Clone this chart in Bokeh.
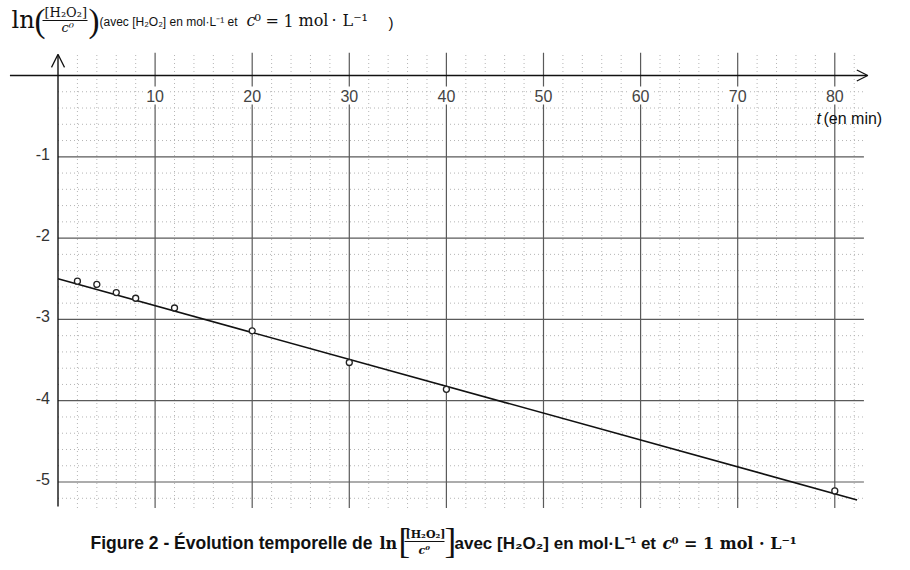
#Numbers and Bokeh
import numpy as np

from bokeh.core.properties import value
from bokeh.embed import file_html
from bokeh.models import Arrow, BoxAnnotation, Label, OpenHead, Range1d
from bokeh.plotting import figure
from bokeh.resources import INLINE

#Measured points read on the scan
t_min = [2, 4, 6, 8, 12, 20, 30, 40, 80]
ln_c = [-2.53, -2.57, -2.67, -2.74, -2.86, -3.14, -3.53, -3.86, -5.11]

#Fitted straight line (its two ends)
fit_t = [0, 82.3]
fit_ln = [-2.50, -5.22]

#Tick labels
x_ticks = [10, 20, 30, 40, 50, 60, 70, 80]
x_labels = ["10", "20", "30", "40", "50", "60", "70", "80"]
y_ticks = [-1, -2, -3, -4, -5]
y_labels = ["-1", "-2", "-3", "-4", "-5"]

W, H = 894, 562

p = figure(width=W, height=H, x_range=Range1d(-5.922, 86.15), y_range=Range1d(-5.990, 0.9225),
           x_axis_location=None, y_axis_location=None, toolbar_location=None,
           output_backend="svg", min_border=0)
p.outline_line_color = None
p.grid.visible = False

#Grid (graph paper)
minor_x = [v for v in np.arange(2, 83, 2) if v % 10 != 0]
minor_y = [round(v, 1) for v in np.arange(-5.2, -0.1, 0.2) if abs(v - round(v)) > 0.01]
p.segment(x0=minor_x, y0=-5.32, x1=minor_x, y1=0.28, line_color="#b4b4b4", line_width=1, line_dash="1 3")
p.segment(x0=0, y0=minor_y, x1=83, y1=minor_y, line_color="#b4b4b4", line_width=1, line_dash="1 3")
p.segment(x0=x_ticks, y0=-5.32, x1=x_ticks, y1=0.28, line_color="#5a5a5a", line_width=1.2)
p.segment(x0=0, y0=y_ticks, x1=83, y1=y_ticks, line_color="#5a5a5a", line_width=1.2)

#Axes with arrows
p.add_layout(Arrow(end=OpenHead(size=11, line_width=1.2, line_color="#111"),
                   x_start=-4.95, y_start=0, x_end=83.4, y_end=0, line_width=1.4, line_color="#111"))
p.add_layout(Arrow(end=OpenHead(size=13, line_width=1.2, line_color="#111"),
                   x_start=0, y_start=-5.30, x_end=0, y_end=0.26, line_width=1.4, line_color="#111"))

#x tick labels: white box cuts the grid line, as on the scan
for tx, tl in zip(x_ticks, x_labels):
    p.add_layout(Label(x=tx, y=0, text=tl, y_offset=-20, text_align="center", text_baseline="middle",
                       text_font="Liberation Sans", text_font_size="16px", text_color="#444",
                       background_fill_color="white", padding=3))
p.text(x=[0] * len(y_ticks), y=y_ticks, text=y_labels, text_align="right", text_baseline="middle",
       x_offset=-8, y_offset=-3, text_font=value("Liberation Sans"), text_font_size="16px", text_color="#333")

#Fitted line and points
p.line(fit_t, fit_ln, line_color="#111", line_width=1.6)
p.scatter(t_min, ln_c, marker="circle", size=6, fill_color="white", line_color="#222", line_width=1.3)


def lab(text, rx, ry, font, size, style="normal", color="#111"):
    #rx, ry: position on the page, ry is the baseline (labels come out ~0.3 em low)
    px = float(size[:-2])
    p.add_layout(Label(x=rx, y=H - ry + 0.3 * px, x_units="screen", y_units="screen", text=text,
                       text_font=font, text_font_size=size, text_font_style=style,
                       text_color=color, text_baseline="alphabetic"))


def bar(rx0, rx1, ry):
    p.add_layout(BoxAnnotation(left=rx0, right=rx1, bottom=H - ry - 0.6, top=H - ry + 0.6,
                               left_units="screen", right_units="screen", top_units="screen",
                               bottom_units="screen", fill_color="#111", fill_alpha=1, line_color=None))


#x axis name
lab("t", 816, 123, "Liberation Sans", "16px", "italic")
lab("(en min)", 823, 123, "Liberation Sans", "16px")

#y axis name (top)
lab("ln", 11, 27, "DejaVu Serif", "24px")
lab("(", 34, 30, "Liberation Serif", "33px")
lab("[H\u2082O\u2082]", 44, 16, "DejaVu Serif", "13px")
bar(42, 87, 20)
lab("c\u2070", 61, 31, "DejaVu Serif", "13px", "italic")
lab(")", 88, 30, "Liberation Serif", "33px")
lab("(avec [H\u2082O\u2082] en mol\u00b7L\u207b\u00b9 et", 99, 25, "Liberation Sans", "12px")
lab("c", 246, 25, "DejaVu Serif", "16px", "italic")
lab("\u2070", 254, 25, "DejaVu Serif", "16px")
lab("=", 265, 25, "DejaVu Serif", "16px")
lab("1", 283, 25, "DejaVu Serif", "16px")
lab("mol", 298, 25, "DejaVu Serif", "16px")
lab("\u00b7", 331, 25, "DejaVu Serif", "16px")
lab("L\u207b\u00b9", 342, 25, "DejaVu Serif", "16px")
lab(")", 388, 26, "Liberation Sans", "15px")

#Caption
lab("Figure 2 - \u00c9volution temporelle de", 90, 548, "Liberation Sans", "17.5px", "bold")
lab("ln", 379, 548, "DejaVu Serif", "16px", "bold")
lab("[", 398, 551, "Liberation Serif", "35px")
lab("[H\u2082O\u2082]", 405, 537, "DejaVu Serif", "11px", "bold")
bar(404, 444, 541)
lab("c\u2070", 418, 553, "DejaVu Serif", "11px", "bold italic")
lab("]", 444, 551, "Liberation Serif", "35px")
lab("avec [H\u2082O\u2082] en mol\u00b7L\u207b\u00b9 et", 454, 548, "Liberation Sans", "17px", "bold")
lab("c", 662, 548, "DejaVu Serif", "16px", "bold italic")
lab("\u2070 = 1 mol \u00b7 L\u207b\u00b9", 671, 548, "DejaVu Serif", "16px", "bold")

open("out.html", "w").write(file_html(p, INLINE))
